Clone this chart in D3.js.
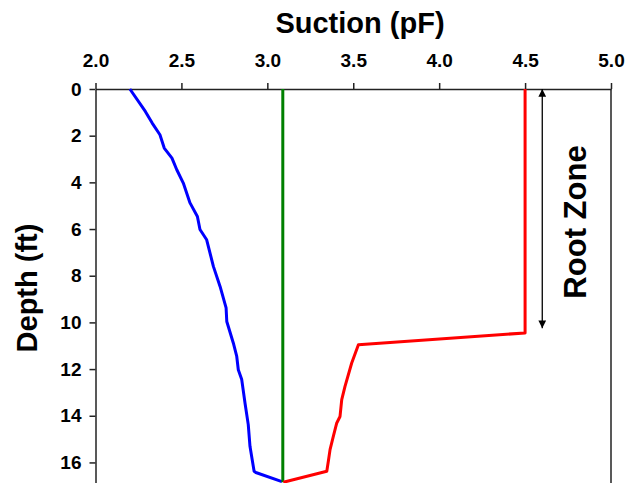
<!DOCTYPE html>
<html>
<head>
<meta charset="utf-8">
<script src="https://cdn.jsdelivr.net/npm/d3@7"></script>
<style>
  body { margin: 0; background: #fff; }
  svg { display: block; font-family: "Liberation Sans", Arial, sans-serif; }
</style>
</head>
<body>
<div id="chart"></div>
<script>
"use strict";

// Suction profiles, [depth (ft), suction (pF)]
var wetProfile = [
  [0, 2.20], [0.96, 2.29], [1.46, 2.33], [1.96, 2.375], [2.53, 2.40], [2.96, 2.445],
  [3.46, 2.473], [4.03, 2.511], [4.88, 2.55], [5.46, 2.593], [6.02, 2.608], [6.46, 2.647],
  [7.6, 2.686], [8.46, 2.725], [9.38, 2.76], [9.96, 2.764], [10.88, 2.802], [11.46, 2.822],
  [12.03, 2.831], [12.45, 2.851], [13.45, 2.87], [14.38, 2.889], [15.31, 2.899],
  [16.38, 2.923], [16.43, 2.933], [16.82, 3.085]
];
var equilibriumProfile = [[0, 3.09], [16.85, 3.09]];
var dryProfile = [
  [0, 4.5], [10.45, 4.5], [10.96, 3.53], [11.74, 3.491], [12.74, 3.452], [13.31, 3.433],
  [14.03, 3.423], [14.31, 3.404], [14.88, 3.384], [15.45, 3.365], [15.95, 3.355],
  [16.38, 3.346], [16.85, 3.093]
];
var rootZone = {pF: 4.6, top: 0, bottom: 10.25, label: "Root Zone"};

var xTicks = [2.0, 2.5, 3.0, 3.5, 4.0, 4.5, 5.0];
var yTicks = [0, 2, 4, 6, 8, 10, 12, 14, 16];

var width = 626, height = 483;
var margin = {top: 89, left: 95.5, right: 15};

var svg = d3.select('#chart').append('svg')
  .attr('width', width)
  .attr('height', height);

var x = d3.scaleLinear()
  .domain([2, 5])
  .range([margin.left, width - margin.right]);

var y = d3.scaleLinear()
  .domain([0, 17])
  .range([margin.top, margin.top + 17 * 23.34]);

// axes
var xAxis = svg.append('g')
  .attr('transform', `translate(0, ${margin.top})`)
  .call(d3.axisTop(x).tickValues(xTicks).tickFormat(d3.format('.1f')).tickSizeInner(6).tickSizeOuter(0).tickPadding(16));

var yAxis = svg.append('g')
  .attr('transform', `translate(${margin.left}, 0)`)
  .call(d3.axisLeft(y).tickValues(yTicks).tickSizeInner(6).tickSizeOuter(0).tickPadding(8));

[xAxis, yAxis].forEach(function(a) {
  a.selectAll('path, line').attr('stroke', '#222').attr('stroke-width', 1.5);
  a.selectAll('text')
    .attr('fill', '#000')
    .style('font-size', '19px')
    .style('font-weight', 'bold')
    .style('font-family', '"Liberation Sans", Arial, sans-serif');
});

// right frame
svg.append('line')
  .attr('x1', x(5)).attr('x2', x(5))
  .attr('y1', y(0)).attr('y2', y(17))
  .attr('stroke', '#222')
  .attr('stroke-width', 1.5);

// profiles
var line = d3.line()
  .x(d => x(d[1]))
  .y(d => y(d[0]));

var series = [
  {data: wetProfile, color: '#0000FF'},
  {data: equilibriumProfile, color: '#008000'},
  {data: dryProfile, color: '#FF0000'}
];

svg.selectAll('.profile')
  .data(series)
  .enter()
  .append('path')
    .attr('class', 'profile')
    .attr('fill', 'none')
    .attr('stroke', d => d.color)
    .attr('stroke-width', 3)
    .attr('stroke-linejoin', 'round')
    .attr('d', d => line(d.data));

// root zone arrow
var defs = svg.append('defs');
defs.append('marker')
  .attr('id', 'arrow')
  .attr('viewBox', '0 0 10 10')
  .attr('refX', 10)
  .attr('refY', 5)
  .attr('markerWidth', 6)
  .attr('markerHeight', 6)
  .attr('markerUnits', 'strokeWidth')
  .attr('orient', 'auto-start-reverse')
  .append('path')
    .attr('d', 'M0,0 L10,5 L0,10 z')
    .attr('fill', '#000');

svg.append('line')
  .attr('x1', x(rootZone.pF)).attr('x2', x(rootZone.pF))
  .attr('y1', y(rootZone.top)).attr('y2', y(rootZone.bottom))
  .attr('stroke', '#000')
  .attr('stroke-width', 1.3)
  .attr('marker-start', 'url(#arrow)')
  .attr('marker-end', 'url(#arrow)');

svg.append('text')
  .attr('transform', `translate(${x(rootZone.pF) + 44}, 222) rotate(-90)`)
  .style('text-anchor', 'middle')
  .style('font-size', '31px')
  .style('font-weight', 'bold')
  .text(rootZone.label);

// axis titles
svg.append('text')
  .attr('x', 360)
  .attr('y', 33)
  .style('text-anchor', 'middle')
  .style('font-size', '29px')
  .style('font-weight', 'bold')
  .text('Suction (pF)');

svg.append('text')
  .attr('transform', 'translate(37, 288) rotate(-90)')
  .style('text-anchor', 'middle')
  .style('font-size', '29px')
  .style('font-weight', 'bold')
  .text('Depth (ft)');
</script>
</body>
</html>
